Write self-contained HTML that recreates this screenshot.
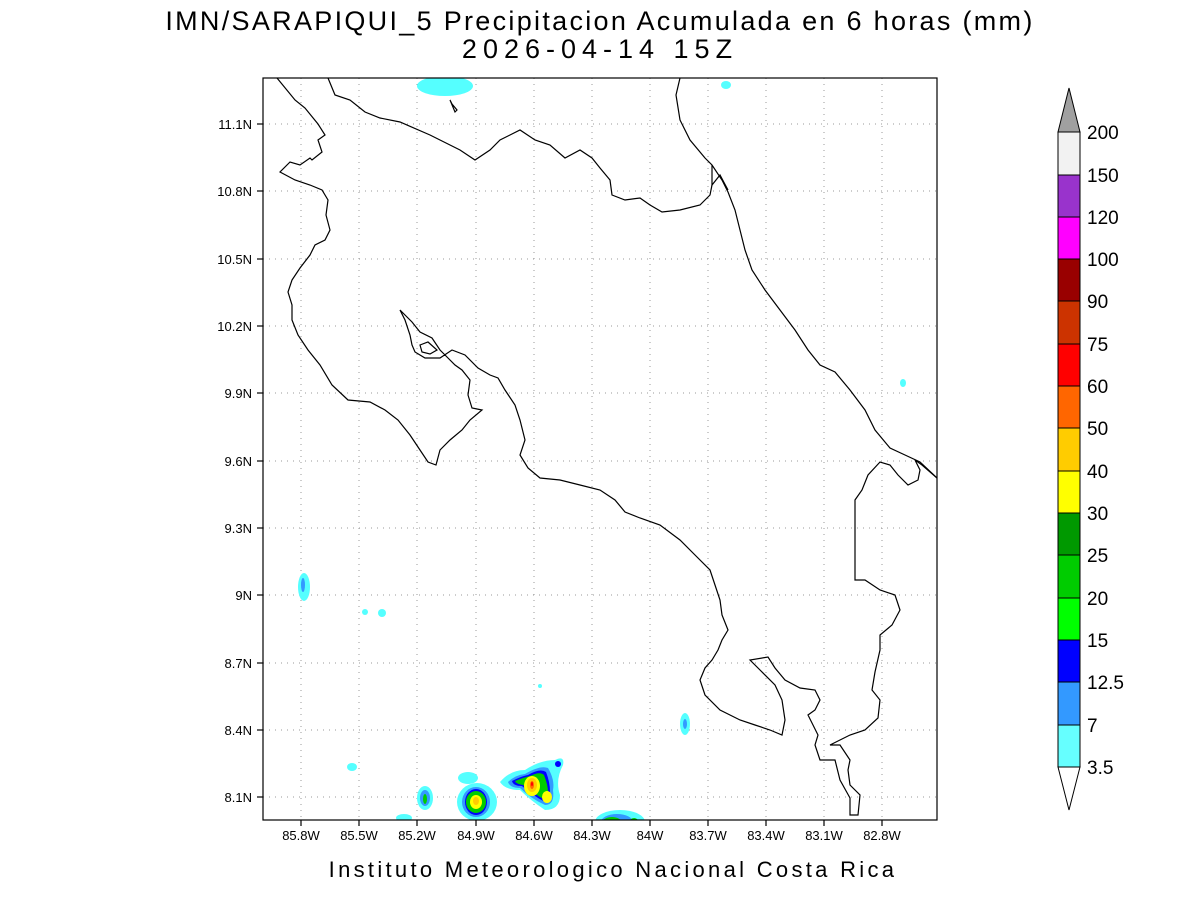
<!DOCTYPE html>
<html><head><meta charset="utf-8"><style>
body{margin:0;background:#fff;}
svg text{font-family:"Liberation Sans","DejaVu Sans",sans-serif;fill:#000;}
</style></head><body>
<svg width="1200" height="900" viewBox="0 0 1200 900" xmlns="http://www.w3.org/2000/svg">
<rect width="1200" height="900" fill="#fff"/>
<text x="600" y="30" font-size="27" text-anchor="middle" letter-spacing="2.3">IMN/SARAPIQUI_5 Precipitacion Acumulada en 6 horas (mm)</text>
<text x="600" y="58" font-size="27" text-anchor="middle" letter-spacing="6">2026-04-14 15Z</text>
<defs><clipPath id="c"><rect x="263" y="78" width="674" height="742"/></clipPath></defs>
<g clip-path="url(#c)">
<!-- grid -->
<g stroke="#999" stroke-width="1" stroke-dasharray="1,5">
<line x1="301" y1="78" x2="301" y2="820"/><line x1="359" y1="78" x2="359" y2="820"/><line x1="417" y1="78" x2="417" y2="820"/><line x1="476" y1="78" x2="476" y2="820"/><line x1="534" y1="78" x2="534" y2="820"/><line x1="592" y1="78" x2="592" y2="820"/><line x1="650" y1="78" x2="650" y2="820"/><line x1="708" y1="78" x2="708" y2="820"/><line x1="766" y1="78" x2="766" y2="820"/><line x1="824" y1="78" x2="824" y2="820"/><line x1="882" y1="78" x2="882" y2="820"/>
<line x1="263" y1="124" x2="937" y2="124"/><line x1="263" y1="191" x2="937" y2="191"/><line x1="263" y1="259" x2="937" y2="259"/><line x1="263" y1="326" x2="937" y2="326"/><line x1="263" y1="393" x2="937" y2="393"/><line x1="263" y1="461" x2="937" y2="461"/><line x1="263" y1="528" x2="937" y2="528"/><line x1="263" y1="595" x2="937" y2="595"/><line x1="263" y1="663" x2="937" y2="663"/><line x1="263" y1="730" x2="937" y2="730"/><line x1="263" y1="797" x2="937" y2="797"/>
</g>
<!-- precip -->
<g>
<ellipse cx="445" cy="86" rx="28" ry="10" fill="#5ff"/>
<ellipse cx="726" cy="85" rx="5" ry="4" fill="#5ff"/>
<ellipse cx="903" cy="383" rx="3" ry="4" fill="#5ff"/>
<ellipse cx="304" cy="587" rx="6" ry="14" fill="#5ff"/><ellipse cx="303" cy="585" rx="2" ry="7" fill="#39f"/>
<circle cx="365" cy="612" r="3" fill="#5ff"/><circle cx="382" cy="613" r="4" fill="#5ff"/>
<ellipse cx="685" cy="724" rx="5" ry="11" fill="#5ff"/><ellipse cx="685" cy="724" rx="2" ry="5" fill="#39f"/>
<ellipse cx="352" cy="767" rx="5" ry="4" fill="#5ff"/>
<circle cx="540" cy="686" r="2" fill="#5ff"/>
<ellipse cx="425" cy="798" rx="8" ry="12" fill="#5ff"/><ellipse cx="425" cy="798" rx="5" ry="8" fill="#39f"/><ellipse cx="425" cy="799" rx="2" ry="5" fill="#0c0"/>
<ellipse cx="404" cy="818" rx="8" ry="4" fill="#5ff"/>
<ellipse cx="468" cy="778" rx="10" ry="6" fill="#5ff"/>
<ellipse cx="477" cy="802" rx="20" ry="19" fill="#5ff"/><ellipse cx="476" cy="802" rx="14" ry="15" fill="#39f"/><ellipse cx="476" cy="802" rx="11" ry="13" fill="#00f"/><ellipse cx="476" cy="802" rx="10" ry="11" fill="#0c0"/><ellipse cx="476" cy="802" rx="6" ry="7" fill="#ff0"/><ellipse cx="476" cy="801" rx="3" ry="4" fill="#fc0"/>
<path d="M500 782 Q510 770 525 770 Q540 760 555 760 Q565 755 563 765 Q555 780 560 795 Q560 810 545 810 Q530 800 520 790 Q505 790 500 782Z" fill="#5ff"/>
<path d="M508 782 Q515 775 525 774 Q540 765 548 768 Q555 780 553 790 Q555 805 545 805 Q530 798 520 788 Q510 788 508 782Z" fill="#39f"/>
<path d="M512 781 Q522 776 528 775 Q540 768 546 772 Q550 782 550 792 Q552 802 545 802 Q532 795 522 786 Q513 786 512 781Z" fill="#00f"/>
<path d="M515 781 Q525 777 530 776 Q540 771 544 775 Q548 785 548 792 Q549 800 545 800 Q533 793 523 785 Q516 784 515 781Z" fill="#0c0"/>
<ellipse cx="532" cy="786" rx="8" ry="10" fill="#ff0"/><ellipse cx="532" cy="785" rx="5" ry="7" fill="#fc0"/><ellipse cx="532" cy="785" rx="2" ry="4" fill="#f60"/><ellipse cx="532" cy="784" rx="1" ry="2" fill="#f00"/>
<ellipse cx="547" cy="797" rx="5" ry="6" fill="#ff0"/>
<ellipse cx="558" cy="764" rx="3" ry="3" fill="#00f"/>
<ellipse cx="620" cy="822" rx="25" ry="12" fill="#5ff"/><ellipse cx="617" cy="822" rx="16" ry="8" fill="#39f"/><ellipse cx="612" cy="823" rx="10" ry="6" fill="#0c0"/><ellipse cx="611" cy="824" rx="5" ry="4" fill="#ff0"/><ellipse cx="634" cy="823" rx="5" ry="5" fill="#0c0"/>
</g>
<!-- coastline -->
<g fill="none" stroke="#000" stroke-width="1.2">
<polyline points="277,78 295,100 305,108 318,124 325,135 318,140 322,152 312,160 310,158 300,165 290,162 280,172 295,180 310,185 322,190 328,200 326,215 330,230 325,240 315,245 310,255 300,268 292,280 288,292 292,305 292,320 298,335 308,350 320,365 332,385 348,400 370,402 385,410 398,420 410,435 420,450 428,462 436,465 440,450 450,440 462,430 470,420 482,410 472,408 468,395 470,380 462,370 455,365 448,358 440,350 432,338 420,332 412,322 400,310 405,320 410,335 412,345 415,352 425,358 440,358 452,350 465,355 478,368 490,375 498,378 505,390 515,405 520,420 525,440 520,455 528,468 540,478 560,480 580,485 600,490 615,500 625,512 640,518 660,525 680,540 695,555 710,570 715,585 720,600 722,615 728,630 722,640 718,650 712,660 705,668 700,680 705,695 720,710 740,720 755,725 770,730 782,735 785,720 782,700 775,685 760,670 750,660 768,657 775,668 785,680 800,688 815,690 820,700 815,710 808,715 818,735 815,745 820,760 835,760 840,780 850,798 850,815 858,815 860,795 850,785 848,770 850,760 840,745 830,745 850,735 865,730 878,718 880,700 872,690 875,672 880,650 880,635 892,625 900,610 895,595 880,590 865,580 855,580 855,500 862,490 868,475 880,462 890,465 898,475 908,485 918,480 920,470 915,460 922,465 937,478"/>
<polyline points="937,478 920,462 905,455 890,448 875,430 865,410 850,390 835,372 820,365 808,350 795,330 780,310 765,290 752,270 745,250 740,230 735,210 728,192 722,180 712,165 705,158 690,140 680,120 676,95 680,78"/>
<polyline points="712,165 712,185 720,175 728,190"/>
<polyline points="328,78 335,95 350,100 365,112 380,118 400,122 430,135 460,150 475,160 490,150 500,140 520,130 535,140 550,145 565,158 580,150 592,158 600,168 610,180 612,195 625,200 640,198 650,205 662,212 680,210 700,205 710,195 712,185"/>
<polygon points="450,100 455,112 457,110 452,104"/>
<polygon points="420,345 428,342 437,350 430,354 422,352"/>
</g>
</g>
<rect x="263" y="78" width="674" height="742" fill="none" stroke="#000" stroke-width="1.2"/>
<!-- ticks -->
<g stroke="#000" stroke-width="1.2">
<line x1="301" y1="820" x2="301" y2="826"/><line x1="359" y1="820" x2="359" y2="826"/><line x1="417" y1="820" x2="417" y2="826"/><line x1="476" y1="820" x2="476" y2="826"/><line x1="534" y1="820" x2="534" y2="826"/><line x1="592" y1="820" x2="592" y2="826"/><line x1="650" y1="820" x2="650" y2="826"/><line x1="708" y1="820" x2="708" y2="826"/><line x1="766" y1="820" x2="766" y2="826"/><line x1="824" y1="820" x2="824" y2="826"/><line x1="882" y1="820" x2="882" y2="826"/>
<line x1="257" y1="124" x2="263" y2="124"/><line x1="257" y1="191" x2="263" y2="191"/><line x1="257" y1="259" x2="263" y2="259"/><line x1="257" y1="326" x2="263" y2="326"/><line x1="257" y1="393" x2="263" y2="393"/><line x1="257" y1="461" x2="263" y2="461"/><line x1="257" y1="528" x2="263" y2="528"/><line x1="257" y1="595" x2="263" y2="595"/><line x1="257" y1="663" x2="263" y2="663"/><line x1="257" y1="730" x2="263" y2="730"/><line x1="257" y1="797" x2="263" y2="797"/>
</g>
<g font-size="13" text-anchor="middle">
<text x="301" y="840">85.8W</text><text x="359" y="840">85.5W</text><text x="417" y="840">85.2W</text><text x="476" y="840">84.9W</text><text x="534" y="840">84.6W</text><text x="592" y="840">84.3W</text><text x="650" y="840">84W</text><text x="708" y="840">83.7W</text><text x="766" y="840">83.4W</text><text x="824" y="840">83.1W</text><text x="882" y="840">82.8W</text>
</g>
<g font-size="13" text-anchor="end">
<text x="252" y="129">11.1N</text><text x="252" y="196">10.8N</text><text x="252" y="264">10.5N</text><text x="252" y="331">10.2N</text><text x="252" y="398">9.9N</text><text x="252" y="466">9.6N</text><text x="252" y="533">9.3N</text><text x="252" y="600">9N</text><text x="252" y="668">8.7N</text><text x="252" y="735">8.4N</text><text x="252" y="802">8.1N</text>
</g>
<text x="613" y="877" font-size="22" text-anchor="middle" letter-spacing="3.3" fill="#333">Instituto Meteorologico Nacional Costa Rica</text>
<!-- colorbar -->
<g stroke="#000" stroke-width="1">
<polygon points="1058,132 1069,88 1080,132" fill="#a0a0a0"/>
<rect x="1058" y="132" width="22" height="43" fill="#f2f2f2"/>
<rect x="1058" y="175" width="22" height="42" fill="#9933cc"/>
<rect x="1058" y="217" width="22" height="42" fill="#ff00ff"/>
<rect x="1058" y="259" width="22" height="42" fill="#990000"/>
<rect x="1058" y="301" width="22" height="43" fill="#cc3300"/>
<rect x="1058" y="344" width="22" height="42" fill="#ff0000"/>
<rect x="1058" y="386" width="22" height="42" fill="#ff6600"/>
<rect x="1058" y="428" width="22" height="43" fill="#ffcc00"/>
<rect x="1058" y="471" width="22" height="42" fill="#ffff00"/>
<rect x="1058" y="513" width="22" height="42" fill="#009900"/>
<rect x="1058" y="555" width="22" height="43" fill="#00cc00"/>
<rect x="1058" y="598" width="22" height="42" fill="#00ff00"/>
<rect x="1058" y="640" width="22" height="42" fill="#0000ff"/>
<rect x="1058" y="682" width="22" height="43" fill="#3399ff"/>
<rect x="1058" y="725" width="22" height="42" fill="#66ffff"/>
<polygon points="1058,767 1069,810 1080,767" fill="#fff"/>
</g>
<g font-size="19">
<text x="1087" y="139">200</text><text x="1087" y="182">150</text><text x="1087" y="224">120</text><text x="1087" y="266">100</text><text x="1087" y="308">90</text><text x="1087" y="351">75</text><text x="1087" y="393">60</text><text x="1087" y="435">50</text><text x="1087" y="478">40</text><text x="1087" y="520">30</text><text x="1087" y="562">25</text><text x="1087" y="605">20</text><text x="1087" y="647">15</text><text x="1087" y="689">12.5</text><text x="1087" y="732">7</text><text x="1087" y="774">3.5</text>
</g>
</svg>
</body></html>
